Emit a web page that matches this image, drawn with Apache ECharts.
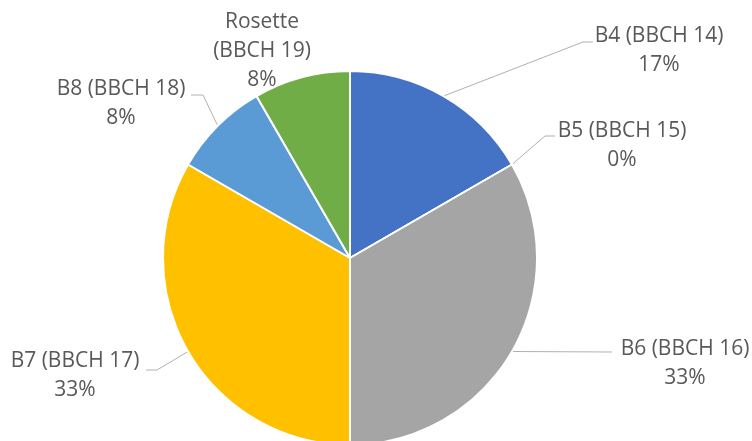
<!DOCTYPE html>
<html>
<head>
<meta charset="utf-8">
<script src="https://cdn.jsdelivr.net/npm/echarts@6/dist/echarts.min.js"></script>
<style>html,body{margin:0;padding:0;background:#fff}#c{width:752px;height:441px}</style>
</head>
<body>
<div id="c"></div>
<script>
const categories = ['B4 (BBCH 14)', 'B5 (BBCH 15)', 'B6 (BBCH 16)', 'B7 (BBCH 17)', 'B8 (BBCH 18)', 'Rosette (BBCH 19)'];
const labelNames = ['B4 (BBCH 14)', 'B5 (BBCH 15)', 'B6 (BBCH 16)', 'B7 (BBCH 17)', 'B8 (BBCH 18)', 'Rosette\n(BBCH 19)'];
const values = [2, 0, 4, 4, 1, 1];
const colors = ['#4472C4', '#ED7D31', '#A5A5A5', '#FFC000', '#5B9BD5', '#70AD47'];

// label layout (text block centres and leader-line bends)
const labelCenters = [[659, 51], [622, 146], [685, 364], [75, 376], [121, 104], [262, 51]];
const leaderBends = [
  [[583, 42], [593, 42]],
  [[545, 136], [555, 136]],
  [[612, 352]],
  [[157, 370], [146, 370]],
  [[203, 95], [191, 95]],
  null
];

const total = values.reduce((a, b) => a + b, 0);

const chart = echarts.init(document.getElementById('c'));
chart.setOption({
  animation: false,
  series: [{
    type: 'pie',
    center: [350, 258],
    radius: 187,
    startAngle: 90,
    clockwise: true,
    avoidLabelOverlap: false,
    itemStyle: { borderColor: '#ffffff', borderWidth: 2 },
    label: {
      show: true,
      formatter: p => labelNames[p.dataIndex] + '\n' + Math.round(values[p.dataIndex] / total * 100) + '%',
      fontFamily: 'Open Sans',
      fontSize: 21,
      lineHeight: 29,
      color: '#595959',
      align: 'center'
    },
    labelLine: { show: true, lineStyle: { color: '#B0B0B0', width: 1 } },
    labelLayout: function (params) {
      const i = params.dataIndex;
      const c = labelCenters[i];
      const res = { x: c[0], y: c[1], align: 'center', verticalAlign: 'middle' };
      if (leaderBends[i] && params.labelLinePoints) {
        res.labelLinePoints = [params.labelLinePoints[0]].concat(leaderBends[i]);
      }
      return res;
    },
    data: categories.map((n, i) => ({
      name: n,
      value: values[i],
      itemStyle: { color: colors[i] },
      labelLine: { show: leaderBends[i] !== null }
    }))
  }]
});
</script>
</body>
</html>
